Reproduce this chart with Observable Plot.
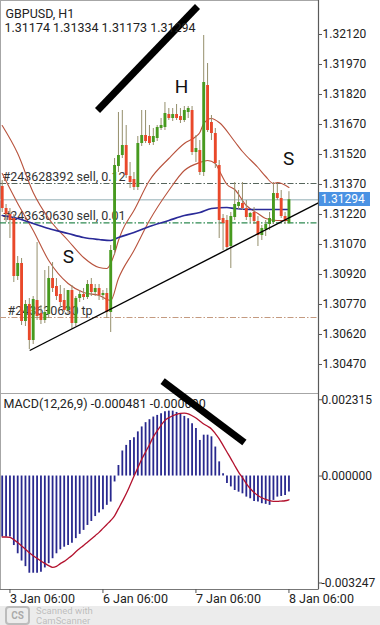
<!DOCTYPE html>
<html>
<head>
<meta charset="utf-8">
<script src="https://cdn.jsdelivr.net/npm/d3@7"></script>
<script src="https://cdn.jsdelivr.net/npm/@observablehq/plot@0.6"></script>
<style>
html,body{margin:0;padding:0;background:#fff;}
#wrap{position:relative;width:380px;height:625px;overflow:hidden;font-family:Roboto,sans-serif;background:#fff;}
#main{position:absolute;left:0;top:0;}
#macd{position:absolute;left:0;top:380px;}
#bar{position:absolute;left:0;top:606px;width:380px;height:19px;background:#ececec;}
#tag{position:absolute;left:319px;width:51px;height:14px;background:#4a92e3;color:#fff;font:12px Roboto,sans-serif;line-height:14px;padding-left:2px;box-sizing:border-box;}
.wm{position:absolute;color:rgba(140,140,140,0.5);font-size:9.5px;line-height:9.5px;height:9.5px;font-family:Roboto,sans-serif;}
#cs{position:absolute;left:5px;top:606px;width:21px;height:15px;border:2px solid rgba(150,150,150,0.55);border-radius:4px;color:rgba(140,140,140,0.7);font:bold 10px Roboto,sans-serif;text-align:center;line-height:15px;}
svg{overflow:visible;}
</style>
</head>
<body>
<div id="wrap">
  <div id="main"></div>
  <div id="macd"></div>
  <div id="bar"></div>
  <div id="cs">CS</div>
  <div class="wm" style="left:36px;top:606px;">Scanned with</div>
  <div class="wm" style="left:36px;top:615.5px;">CamScanner</div>
  <div id="tag"></div>
</div>
<script>
// ---------- DATA ----------
const symbol = "GBPUSD, H1";
const ohlcText = "1.31174 1.31334 1.31173 1.31294";

const openP = [1.3136,1.3125,1.3122,1.3120,1.3091,1.30975,1.30685,1.3077,1.3059,1.3079,
  1.30725,1.3069,1.3072,1.3090,1.3086,1.3082,1.3079,1.3074,1.3084,1.30675,
  1.3080,1.3082,1.30805,1.3087,1.3083,1.3085,1.30815,1.30825,1.3073,1.3104,
  1.3146,1.31515,1.31565,1.3141,1.31395,1.31355,1.31575,1.31615,1.3161,1.3158,
  1.3160,1.3165,1.31655,1.3172,1.3170,1.3172,1.3171,1.3169,1.3173,1.3174,
  1.3153,1.3154,1.3143,1.31865,1.3168,1.31625,1.31465,1.3120,1.3119,1.3106,
  1.31205,1.3126,1.31275,1.3125,1.31205,1.3123,1.31185,1.31115,1.31145,1.3117,
  1.3118,1.31325,1.3130,1.3121,1.31174];
const highP = [1.3139,1.3127,1.3125,1.3122,1.3101,1.3100,1.3079,1.3080,1.3081,1.3108,
  1.30765,1.3094,1.3096,1.3098,1.3090,1.30865,1.3085,1.3084,1.30865,1.3081,
  1.3084,1.3085,1.3089,1.3090,1.3087,1.3087,1.3084,1.3085,1.31065,1.3150,
  1.3173,1.3174,1.31665,1.3148,1.3143,1.3161,1.3174,1.3174,1.31665,1.3165,
  1.31665,1.3170,1.3178,1.3175,1.3175,1.3177,1.3175,1.3176,1.3176,1.3176,
  1.31615,1.3159,1.32115,1.31975,1.31715,1.3165,1.3149,1.3122,1.31215,1.3123,
  1.3138,1.3134,1.3138,1.3129,1.3123,1.31255,1.3121,1.31165,1.3119,1.3123,
  1.3138,1.31375,1.3134,1.3123,1.31334];
const lowP = [1.3123,1.3118,1.3110,1.3088,1.3089,1.30665,1.3066,1.30545,1.3057,1.3069,
  1.3067,1.30675,1.3070,1.3083,1.3079,1.3076,1.3073,1.3072,1.30645,1.3066,
  1.3078,1.3079,1.30795,1.3081,1.3081,1.3079,1.3079,1.3070,1.3063,1.31015,
  1.3143,1.3150,1.3140,1.3135,1.3134,1.3134,1.3156,1.31575,1.31565,1.31565,
  1.31585,1.3164,1.3164,1.3169,1.31685,1.3169,1.31675,1.3168,1.3170,1.31515,
  1.3148,1.31415,1.3141,1.3163,1.3159,1.3145,1.3110,1.3104,1.3104,1.3095,
  1.3119,1.31245,1.3124,1.3119,1.3118,1.3117,1.3106,1.3109,1.3111,1.3114,
  1.3117,1.3129,1.3120,1.3117,1.31173];
const closeP = [1.3125,1.3122,1.3119,1.3091,1.30975,1.30685,1.3077,1.3059,1.30795,1.3071,
  1.3069,1.3073,1.3090,1.3085,1.3081,1.3078,1.3074,1.3084,1.30675,1.3080,
  1.3082,1.30805,1.3087,1.3083,1.3085,1.30815,1.30825,1.3073,1.3104,1.31465,
  1.31515,1.31565,1.31415,1.3138,1.31355,1.31575,1.31615,1.31585,1.31575,1.3161,
  1.31655,1.31665,1.31725,1.3170,1.3172,1.3170,1.3169,1.3174,1.3175,1.3153,
  1.3155,1.3143,1.3188,1.3164,1.31625,1.31475,1.3119,1.31175,1.31055,1.3121,
  1.3127,1.3128,1.3125,1.31205,1.31225,1.31185,1.31115,1.3115,1.3117,1.3120,
  1.31325,1.3130,1.3121,1.31185,1.31294];

// moving average / band lines read at bar indices: [bar, price]
const bandUpper = [[0,1.31665],[4,1.31525],[8,1.3133],[12,1.3120],[17,1.3109],[21,1.31005],
  [25,1.30955],[27,1.3095],[29,1.31025],[30,1.3109],[31,1.3114],[34,1.3124],[38,1.3139],
  [43,1.3150],[47,1.31575],[50,1.3161],[51,1.3163],[52,1.31675],[54,1.3170],[56,1.3168],
  [60,1.31585],[62,1.31535],[66,1.31455],[68,1.3141],[70,1.31375],[71,1.3138],[74,1.31355]];
const bandLower = [[0,1.31425],[4,1.31275],[8,1.3114],[12,1.3099],[17,1.30875],[21,1.3083],
  [25,1.30815],[28,1.3079],[30,1.3090],[34,1.3104],[38,1.3119],[43,1.3134],[47,1.3144],
  [51,1.3148],[53,1.3149],[55,1.31475],[56,1.3144],[58,1.3137],[60,1.31345],[63,1.31265],
  [66,1.31225],[68,1.3120],[71,1.3119],[74,1.3119]];
const maBlue = [[0,1.31215],[4,1.3120],[8,1.31175],[12,1.3115],[17,1.31125],[21,1.31105],
  [25,1.31095],[28,1.3109],[30,1.31105],[34,1.3113],[38,1.3116],[43,1.3119],[47,1.31215],
  [51,1.3123],[54,1.3125],[58,1.31255],[60,1.3125],[64,1.31245],[74,1.31245]];

const lastPrice = 1.31294;
const orderPrices = [1.31375, 1.31178, 1.30705];
const orderLabels = ["#243628392 sell, 0.12", "#243630630 sell, 0.01", "#243630630 tp"];

const priceTicks = [1.3212,1.3197,1.3182,1.3167,1.3152,1.3137,1.3122,1.3107,1.3092,1.3077,1.3062,1.3047];

const macdHist = [-0.00185,-0.00185,-0.00185,-0.00211,-0.00236,-0.00258,-0.00275,-0.00295,-0.00295,-0.00295,
  -0.00292,-0.00279,-0.00266,-0.00251,-0.00236,-0.00224,-0.00216,-0.00211,-0.00204,-0.00190,
  -0.00177,-0.00165,-0.00150,-0.00138,-0.00123,-0.00112,-0.00102,-0.00089,-0.00079,-0.00018,
  0.00032,0.00076,0.00093,0.00108,0.00116,0.00134,0.00149,0.00162,0.00171,0.00179,
  0.00184,0.00189,0.00195,0.00197,0.00197,0.00193,0.00187,0.00181,0.00174,0.00159,
  0.00144,0.00108,0.00124,0.00124,0.00119,0.00088,0.00043,0.00007,-0.00023,-0.00033,
  -0.00044,-0.00049,-0.00054,-0.00064,-0.00069,-0.00077,-0.00079,-0.00084,-0.00086,-0.00089,
  -0.00074,-0.00064,-0.00062,-0.00059,-0.000481];
const macdSignal = [-0.00185,-0.00185,-0.00186,-0.00193,-0.00202,-0.00212,-0.00222,-0.00233,-0.00242,-0.00250,
  -0.00258,-0.00265,-0.00272,-0.00277,-0.00274,-0.00266,-0.00259,-0.00250,-0.00241,-0.00230,
  -0.00220,-0.00211,-0.00201,-0.00191,-0.00181,-0.00171,-0.00159,-0.00147,-0.00135,-0.00121,
  -0.00099,-0.00077,-0.00054,-0.00028,-0.00001,0.00025,0.00051,0.00073,0.00095,0.00119,
  0.00137,0.00154,0.00169,0.00177,0.00183,0.00187,0.00190,0.00191,0.00189,0.00183,
  0.00176,0.00167,0.00158,0.00151,0.00143,0.00129,0.00113,0.00093,0.00073,0.00053,
  0.00032,0.00012,-0.00005,-0.00023,-0.00038,-0.00050,-0.00059,-0.00066,-0.00071,-0.00075,
  -0.00077,-0.00077,-0.00076,-0.00075,-0.00072];
const macdLabel = "MACD(12,26,9) -0.000481 -0.000690";
const macdTicks = [0.002315, 0, -0.003247];

const timeTicks = [2, 26, 50, 74];
const timeLabels = ["3 Jan 06:00", "6 Jan 06:00", "7 Jan 06:00", "8 Jan 06:00"];

// hand-drawn annotations, in (bar, value) space
const noteTopLine = [{x1:24.6, y1:1.3174, x2:50.4, y2:1.3226}];
const noteTrend = [{x1:7.1, y1:1.3054, x2:81.6, y2:1.31278}];
const noteMacdLine = [{x1:41.4, y1:0.00288, x2:62.5, y2:0.00102}];
const noteLetters = [{x:46.3, y:1.3186, t:"H"}, {x:17.1, y:1.3101, t:"S"}, {x:73.9, y:1.3150, t:"S"}];

// ---------- BUILD ----------
const candles = openP.map((o, k) => ({i: k, o, h: highP[k], l: lowP[k], c: closeP[k]}));
const ups = candles.filter(d => d.c >= d.o);
const downs = candles.filter(d => d.c < d.o);
const pts = arr => arr.map(([i, v]) => ({i, v}));
const hist = macdHist.map((v, i) => ({i, v}));
const sig = macdSignal.map((v, i) => ({i, v}));
const orders = orderPrices.map((p, k) => ({p, t: orderLabels[k]}));

const xDomain = [-0.4387, 81.626];
const yDomain = [1.30325, 1.3229];
const font = "Roboto, sans-serif";
const dashDot = "6,2,1.5,2";

const main = Plot.plot({
  width: 380, height: 393,
  marginLeft: 0, marginRight: 62, marginTop: 0, marginBottom: 0,
  style: {fontFamily: font, fontSize: "12px", background: "none", color: "#222", overflow: "visible"},
  x: {domain: xDomain, axis: null},
  y: {domain: yDomain, axis: null},
  marks: [
    Plot.frame({stroke: "#a6a6a6"}),
    Plot.ruleY([orders[0]], {y: "p", stroke: "#56655c", strokeWidth: 1, strokeDasharray: dashDot}),
    Plot.ruleY([orders[1]], {y: "p", stroke: "#2f8a52", strokeWidth: 1.1, strokeDasharray: dashDot}),
    Plot.ruleY([orders[2]], {y: "p", stroke: "#c49a80", strokeWidth: 1, strokeDasharray: dashDot}),
    Plot.ruleY([lastPrice], {stroke: "#b5c8cc", strokeWidth: 1.6}),
    Plot.text(orders.slice(0, 2), {y: "p", text: "t", frameAnchor: "left", textAnchor: "start", dx: 2, dy: -7, fontSize: 12.5, fill: "#333"}),
    Plot.text(orders.slice(2), {y: "p", text: "t", frameAnchor: "left", textAnchor: "start", dx: 7, dy: -6.5, fontSize: 12.5, fill: "#333"}),
    Plot.line(pts(bandUpper), {x: "i", y: "v", stroke: "#b8523c", strokeWidth: 1.1, curve: "monotone-x"}),
    Plot.line(pts(bandLower), {x: "i", y: "v", stroke: "#b8523c", strokeWidth: 1.1, curve: "monotone-x"}),
    Plot.line(pts(maBlue), {x: "i", y: "v", stroke: "#2a2a98", strokeWidth: 1.7, curve: "monotone-x"}),
    Plot.ruleX(candles, {x: "i", y1: "l", y2: "h", stroke: "#958f6c", strokeWidth: 1}),
    Plot.ruleX(ups, {x: "i", y1: "o", y2: "c", stroke: "#479a1f", strokeWidth: 2.9}),
    Plot.ruleX(downs, {x: "i", y1: "o", y2: "c", stroke: "#e9482a", strokeWidth: 2.9}),
    Plot.link(noteTrend, {x1: "x1", y1: "y1", x2: "x2", y2: "y2", stroke: "#000", strokeWidth: 1.4}),
    Plot.link(noteTopLine, {x1: "x1", y1: "y1", x2: "x2", y2: "y2", stroke: "#000", strokeWidth: 7}),
    Plot.text(noteLetters, {x: "x", y: "y", text: "t", fontSize: 19, fill: "#111"}),
    Plot.text([symbol], {frameAnchor: "top-left", lineAnchor: "middle", dx: 5, dy: 13.5, fontSize: 12.5, fill: "#222"}),
    Plot.text([ohlcText], {frameAnchor: "top-left", lineAnchor: "middle", dx: 4, dy: 27.5, fontSize: 12.5, fill: "#222"}),
    Plot.ruleX([xDomain[1]], {stroke: "#5a5a5a", strokeWidth: 1.2}),
    Plot.axisY(priceTicks, {anchor: "right", tickFormat: d => d.toFixed(5), tickSize: 3, tickPadding: 1, fontSize: 12, stroke: "#555", fill: "#222"})
  ]
});
document.getElementById("main").appendChild(main);

// current-price tag on the right axis, positioned with the plot's own y scale
let yPx;
try { yPx = main.scale("y").apply(lastPrice); } catch (e) { yPx = NaN; }
if (!isFinite(yPx)) yPx = d3.scaleLinear().domain(yDomain).range([393, 0])(lastPrice);
const tag = document.getElementById("tag");
tag.style.top = (yPx - 7) + "px";
tag.textContent = lastPrice.toFixed(5);

const macd = Plot.plot({
  width: 380, height: 245,
  marginLeft: 0, marginRight: 62, marginTop: 13, marginBottom: 36,
  style: {fontFamily: font, fontSize: "12px", background: "none", color: "#222", overflow: "visible"},
  x: {domain: xDomain, axis: null},
  y: {domain: [-0.003444, 0.002505], axis: null},
  marks: [
    Plot.frame({stroke: "#a6a6a6"}),
    Plot.ruleX(hist, {x: "i", y1: 0, y2: "v", stroke: "#28288e", strokeWidth: 1.8}),
    Plot.line(sig, {x: "i", y: "v", stroke: "#b3122e", strokeWidth: 1.3, curve: "monotone-x"}),
    Plot.text([macdLabel], {frameAnchor: "top-left", lineAnchor: "middle", dx: 3, dy: 10.5, fontSize: 12.5, fill: "#222"}),
    Plot.link(noteMacdLine, {x1: "x1", y1: "y1", x2: "x2", y2: "y2", stroke: "#000", strokeWidth: 7}),
    Plot.ruleX([xDomain[1]], {stroke: "#5a5a5a", strokeWidth: 1.2}),
    Plot.ruleY([-0.003444], {stroke: "#777"}),
    Plot.axisY(macdTicks, {anchor: "right", tickFormat: d => d.toFixed(6), tickSize: 3, tickPadding: 0, fontSize: 12, stroke: "#555", fill: "#222"}),
    Plot.axisX(timeTicks, {anchor: "bottom", tickFormat: d => timeLabels[timeTicks.indexOf(d)], textAnchor: "start", tickSize: 4, tickPadding: 1, fontSize: 12.5, stroke: "#555", fill: "#222"})
  ]
});
document.getElementById("macd").appendChild(macd);
</script>
</body>
</html>
